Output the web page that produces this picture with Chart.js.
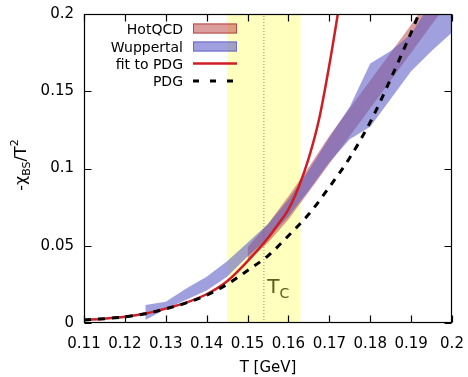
<!DOCTYPE html>
<html>
<head>
<meta charset="utf-8">
<script src="https://cdn.jsdelivr.net/npm/chart.js@4.4.0/dist/chart.umd.min.js"></script>
<style>
  html, body { margin: 0; padding: 0; background: #fff; }
</style>
</head>
<body>
<canvas id="chart" width="468" height="377"></canvas>
<script>
// ---- data ----
const pdgT = [0.110, 0.115, 0.120, 0.125, 0.130, 0.135, 0.140, 0.145, 0.150, 0.155, 0.160, 0.165, 0.170, 0.175, 0.180, 0.185, 0.190, 0.195];
const pdgV = [0.0020, 0.0028, 0.0040, 0.0060, 0.0092, 0.0130, 0.0180, 0.0250, 0.0340, 0.0435, 0.0565, 0.0705, 0.0880, 0.1070, 0.1300, 0.1580, 0.1880, 0.2200];

const fitT = [0.110, 0.115, 0.120, 0.125, 0.130, 0.135, 0.140, 0.145, 0.150, 0.155, 0.1575, 0.160, 0.1625, 0.165, 0.1675, 0.170, 0.1725, 0.175];
const fitV = [0.0020, 0.0028, 0.0040, 0.0061, 0.0093, 0.0132, 0.0186, 0.0270, 0.0400, 0.0550, 0.0640, 0.0735, 0.0880, 0.1070, 0.1320, 0.1670, 0.2070, 0.2500];

const wupT  = [0.125, 0.130, 0.135, 0.140, 0.145, 0.150, 0.155, 0.160, 0.165, 0.170, 0.175, 0.180, 0.185, 0.190, 0.195, 0.200];
const wupLo = [0.002, 0.009, 0.015, 0.021, 0.030, 0.043, 0.055, 0.069, 0.086, 0.104, 0.119, 0.127, 0.145, 0.163, 0.176, 0.188];
const wupHi = [0.0117, 0.0138, 0.0224, 0.030, 0.040, 0.052, 0.064, 0.080, 0.099, 0.120, 0.140, 0.168, 0.176, 0.187, 0.208, 0.225];

const hotT  = [0.150, 0.155, 0.160, 0.165, 0.170, 0.175, 0.180, 0.185, 0.190, 0.195, 0.200];
const hotLo = [0.040, 0.052, 0.067, 0.085, 0.103, 0.121, 0.139, 0.157, 0.175, 0.193, 0.211];
const hotHi = [0.049, 0.064, 0.082, 0.101, 0.121, 0.139, 0.157, 0.175, 0.193, 0.212, 0.230];

const tcRange = [0.145, 0.163];
const tcValue = 0.154;

const xTicks = [0.11, 0.12, 0.13, 0.14, 0.15, 0.16, 0.17, 0.18, 0.19, 0.2];
const yTicks = [0, 0.05, 0.1, 0.15, 0.2];

const FONT = "'DejaVu Sans', sans-serif";
const HOT_FILL = 'rgba(185,60,60,0.5)';
const HOT_EDGE = '#b84848';
const WUP_FILL = 'rgba(88,88,198,0.57)';
const WUP_EDGE = '#6a6ac8';
const FIT_COLOR = '#d01c24';
const TC_TEXT = '#5e5e18';

const pts = (xs, ys) => xs.map((x, i) => ({ x, y: ys[i] }));
const none = 'rgba(0,0,0,0)';

// frame with inward ticks on all four sides
const framePlugin = {
    id: 'frame',
    afterDatasetsDraw(chart) {
        const { ctx, chartArea: a, scales: { x, y } } = chart;
        const L = Math.round(a.left) + 0.5, R = Math.round(a.right) - 0.5;
        const T = Math.round(a.top) + 0.5, B = Math.round(a.bottom) - 0.5;
        ctx.save();
        ctx.strokeStyle = '#000';
        ctx.lineWidth = 1.2;
        ctx.strokeRect(L, T, R - L, B - T);
        ctx.beginPath();
        const len = 7;
        x.ticks.forEach(t => {
            const px = Math.round(x.getPixelForValue(t.value)) + 0.5;
            ctx.moveTo(px, B); ctx.lineTo(px, B - len);
            ctx.moveTo(px, T); ctx.lineTo(px, T + len);
        });
        y.ticks.forEach(t => {
            const py = Math.round(y.getPixelForValue(t.value)) + 0.5;
            ctx.moveTo(L, py); ctx.lineTo(L + len, py);
            ctx.moveTo(R, py); ctx.lineTo(R - len, py);
        });
        ctx.stroke();
        ctx.restore();
    }
};

// gnuplot-style key: text right aligned, sample on the right
const keyPlugin = {
    id: 'key',
    afterDatasetsDraw(chart) {
        const ctx = chart.ctx;
        const textRight = 183, x0 = 193, x1 = 237;
        const rows = [
            { label: 'HotQCD', y: 28.5, kind: 'box', fill: HOT_FILL, edge: HOT_EDGE },
            { label: 'Wuppertal', y: 46.5, kind: 'box', fill: WUP_FILL, edge: WUP_EDGE },
            { label: 'fit to PDG', y: 63.5, kind: 'line' },
            { label: 'PDG', y: 81, kind: 'dash' }
        ];
        ctx.save();
        ctx.font = '14px ' + FONT;
        ctx.textAlign = 'right';
        ctx.textBaseline = 'alphabetic';
        rows.forEach(r => {
            ctx.fillStyle = '#000';
            ctx.fillText(r.label, textRight, r.y + 5);
            if (r.kind === 'box') {
                ctx.fillStyle = r.fill;
                ctx.fillRect(x0, r.y - 5, x1 - x0, 10);
                ctx.strokeStyle = r.edge;
                ctx.lineWidth = 1;
                ctx.strokeRect(x0 + 0.5, r.y - 4.5, x1 - x0 - 1, 9);
            } else if (r.kind === 'line') {
                ctx.strokeStyle = FIT_COLOR;
                ctx.lineWidth = 2.5;
                ctx.beginPath(); ctx.moveTo(x0, r.y); ctx.lineTo(x1, r.y); ctx.stroke();
            } else {
                ctx.strokeStyle = '#000';
                ctx.lineWidth = 3;
                ctx.setLineDash([6, 11]);
                ctx.beginPath(); ctx.moveTo(x0, r.y); ctx.lineTo(x1, r.y); ctx.stroke();
                ctx.setLineDash([]);
            }
        });
        ctx.restore();
    }
};

// T_c label inside the band
const tcLabelPlugin = {
    id: 'tcLabel',
    afterDatasetsDraw(chart) {
        const { ctx, scales: { x, y } } = chart;
        const px = x.getPixelForValue(0.1548), py = y.getPixelForValue(0.0195);
        ctx.save();
        ctx.fillStyle = TC_TEXT;
        ctx.textBaseline = 'alphabetic';
        ctx.textAlign = 'left';
        ctx.font = '20px ' + FONT;
        ctx.fillText('T', px, py);
        const w = ctx.measureText('T').width;
        ctx.font = '14px ' + FONT;
        ctx.fillText('C', px + w, py + 5);
        ctx.restore();
    }
};

// axis titles (y title needs sub/superscripts)
const titlesPlugin = {
    id: 'titles',
    afterDraw(chart) {
        const { ctx, chartArea: a } = chart;
        ctx.save();
        ctx.fillStyle = '#000';
        ctx.font = '15px ' + FONT;
        ctx.textAlign = 'center';
        ctx.textBaseline = 'middle';
        ctx.fillText('T [GeV]', (a.left + a.right) / 2, 368);

        const parts = [
            { t: '-χ', size: 16, dy: 0 },
            { t: 'BS', size: 11, dy: 4 },
            { t: '/T', size: 16, dy: 0 },
            { t: '2', size: 11, dy: -8 }
        ];
        let total = 0;
        parts.forEach(p => { ctx.font = p.size + 'px ' + FONT; p.w = ctx.measureText(p.t).width; total += p.w; });
        ctx.translate(26, 165);
        ctx.rotate(-Math.PI / 2);
        ctx.textAlign = 'left';
        ctx.textBaseline = 'alphabetic';
        let cx = -total / 2;
        parts.forEach(p => {
            ctx.font = p.size + 'px ' + FONT;
            ctx.fillText(p.t, cx, p.dy);
            cx += p.w;
        });
        ctx.restore();
    }
};

new Chart(document.getElementById('chart'), {
    type: 'line',
    data: {
        datasets: [
            {
                label: 'PDG', data: pts(pdgT, pdgV),
                borderColor: '#000', borderWidth: 3, borderDash: [7, 7],
                cubicInterpolationMode: 'monotone', fill: false, pointRadius: 0
            },
            {
                label: 'fit to PDG', data: pts(fitT, fitV),
                borderColor: FIT_COLOR, borderWidth: 2.5,
                cubicInterpolationMode: 'monotone', fill: false, pointRadius: 0
            },
            {
                label: 'Wuppertal', data: pts(wupT, wupHi),
                borderColor: none, borderWidth: 0, backgroundColor: WUP_FILL, fill: '+1', pointRadius: 0
            },
            {
                label: 'Wuppertal low', data: pts(wupT, wupLo),
                borderColor: none, borderWidth: 0, fill: false, pointRadius: 0
            },
            {
                label: 'HotQCD', data: pts(hotT, hotHi),
                borderColor: none, borderWidth: 0, backgroundColor: HOT_FILL, fill: '+1', pointRadius: 0
            },
            {
                label: 'HotQCD low', data: pts(hotT, hotLo),
                borderColor: none, borderWidth: 0, fill: false, pointRadius: 0
            },
            {
                label: 'Tc', data: [{ x: tcValue, y: 0 }, { x: tcValue, y: 0.2 }],
                borderColor: '#8a8a7a', borderWidth: 1, borderDash: [1, 2], fill: false, pointRadius: 0
            },
            {
                label: 'Tc band', data: [{ x: tcRange[0], y: 0.2 }, { x: tcRange[1], y: 0.2 }],
                borderColor: none, borderWidth: 0, backgroundColor: '#ffffbe', fill: 'origin', pointRadius: 0
            }
        ]
    },
    options: {
        responsive: false,
        animation: false,
        layout: { padding: { left: 0, right: 16, top: 14, bottom: 0 } },
        plugins: { legend: { display: false }, tooltip: { enabled: false } },
        scales: {
            x: {
                type: 'linear', min: 0.11, max: 0.2,
                afterFit: s => { s.height = 54; s.paddingLeft = 0; s.paddingRight = 0; },
                afterBuildTicks: s => { s.ticks = xTicks.map(v => ({ value: v })); },
                grid: { display: false, drawTicks: false },
                border: { display: false },
                ticks: {
                    font: { family: FONT, size: 15 }, color: '#000', padding: 12,
                    maxRotation: 0, autoSkip: false,
                    callback: v => String(+v.toFixed(2))
                }
            },
            y: {
                min: 0, max: 0.2,
                afterFit: s => { s.width = 84; s.paddingTop = 0; s.paddingBottom = 0; },
                afterBuildTicks: s => { s.ticks = yTicks.map(v => ({ value: v })); },
                grid: { display: false, drawTicks: false },
                border: { display: false },
                ticks: {
                    font: { family: FONT, size: 15 }, color: '#000', padding: 10,
                    callback: v => String(+v.toFixed(2))
                }
            }
        }
    },
    plugins: [framePlugin, keyPlugin, tcLabelPlugin, titlesPlugin]
});
</script>
</body>
</html>
